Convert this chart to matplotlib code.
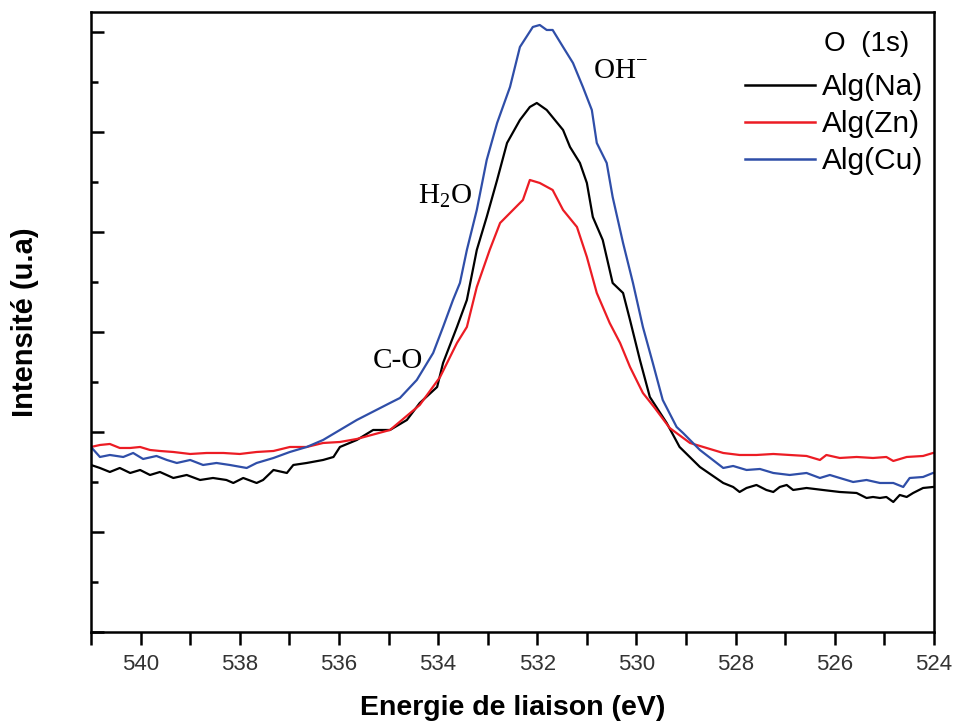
import matplotlib
matplotlib.use("Agg")
import matplotlib.pyplot as plt
from matplotlib.ticker import MultipleLocator

# Energie de liaison (eV) / intensite (u.a)
e_na = [541.00, 540.82, 540.62, 540.42, 540.21, 540.01, 539.81, 539.61, 539.34, 539.07,
        538.80, 538.54, 538.27, 538.13, 537.93, 537.66, 537.53, 537.32, 537.05, 536.92,
        536.65, 536.32, 536.11, 535.98, 535.64, 535.31, 534.97, 534.63, 534.37, 534.02,
        533.90, 533.62, 533.42, 533.22, 533.02, 532.81, 532.61, 532.35, 532.15, 532.01,
        531.81, 531.48, 531.34, 531.14, 531.00, 530.88, 530.68, 530.48, 530.27, 530.13,
        529.93, 529.73, 529.39, 529.13, 528.72, 528.25, 528.05, 527.92, 527.78, 527.58,
        527.38, 527.24, 527.11, 526.97, 526.84, 526.57, 526.24, 525.90, 525.56, 525.36,
        525.23, 525.09, 524.96, 524.82, 524.69, 524.55, 524.42, 524.22, 524.02]
i_na = [1.67, 1.64, 1.60, 1.64, 1.59, 1.62, 1.57, 1.60, 1.54, 1.57,
        1.52, 1.54, 1.52, 1.49, 1.54, 1.49, 1.52, 1.62, 1.59, 1.67,
        1.69, 1.72, 1.75, 1.85, 1.92, 2.02, 2.02, 2.12, 2.29, 2.45,
        2.69, 3.05, 3.32, 3.82, 4.15, 4.52, 4.89, 5.12, 5.25, 5.29,
        5.22, 5.02, 4.85, 4.69, 4.49, 4.15, 3.92, 3.49, 3.39, 3.12,
        2.72, 2.35, 2.09, 1.85, 1.65, 1.49, 1.45, 1.40, 1.44, 1.47,
        1.42, 1.40, 1.45, 1.47, 1.42, 1.44, 1.42, 1.40, 1.39, 1.34,
        1.35, 1.34, 1.35, 1.30, 1.37, 1.35, 1.39, 1.44, 1.45]

e_zn = [541.00, 540.82, 540.62, 540.42, 540.21, 540.01, 539.81, 539.61, 539.34, 539.00,
        538.67, 538.33, 538.00, 537.66, 537.32, 536.99, 536.65, 536.32, 535.98, 535.64,
        534.97, 534.37, 533.96, 533.62, 533.42, 533.22, 532.96, 532.75, 532.49, 532.29,
        532.15, 531.95, 531.69, 531.48, 531.20, 531.00, 530.80, 530.54, 530.33, 530.13,
        529.87, 529.63, 529.33, 528.92, 528.25, 527.92, 527.58, 527.24, 526.91, 526.57,
        526.30, 526.17, 525.90, 525.56, 525.23, 524.96, 524.82, 524.55, 524.22, 524.02]
i_zn = [1.85, 1.87, 1.88, 1.84, 1.84, 1.85, 1.82, 1.81, 1.80, 1.78,
        1.79, 1.79, 1.78, 1.80, 1.81, 1.85, 1.85, 1.89, 1.90, 1.93,
        2.02, 2.27, 2.55, 2.89, 3.05, 3.45, 3.82, 4.09, 4.22, 4.32,
        4.52, 4.49, 4.42, 4.22, 4.05, 3.75, 3.39, 3.09, 2.89, 2.65,
        2.39, 2.24, 2.04, 1.89, 1.79, 1.77, 1.77, 1.78, 1.77, 1.76,
        1.72, 1.77, 1.74, 1.75, 1.74, 1.75, 1.71, 1.75, 1.76, 1.79]

e_cu = [541.00, 540.82, 540.62, 540.35, 540.15, 539.95, 539.68, 539.47, 539.27, 539.00,
        538.74, 538.47, 538.20, 537.86, 537.66, 537.32, 536.99, 536.65, 536.32, 535.64,
        534.97, 534.77, 534.43, 534.10, 533.90, 533.70, 533.56, 533.42, 533.22, 533.02,
        532.81, 532.55, 532.35, 532.09, 531.95, 531.81, 531.69, 531.48, 531.28, 531.08,
        530.90, 530.80, 530.60, 530.48, 530.27, 530.07, 529.87, 529.67, 529.47, 529.19,
        529.06, 528.72, 528.25, 528.05, 527.78, 527.51, 527.24, 526.91, 526.57, 526.30,
        526.10, 525.90, 525.63, 525.36, 525.09, 524.82, 524.62, 524.49, 524.22, 524.02]
i_cu = [1.85, 1.75, 1.77, 1.75, 1.79, 1.73, 1.76, 1.72, 1.69, 1.72,
        1.67, 1.69, 1.67, 1.64, 1.69, 1.74, 1.80, 1.85, 1.92, 2.12,
        2.29, 2.34, 2.52, 2.79, 3.05, 3.32, 3.49, 3.82, 4.22, 4.72,
        5.09, 5.45, 5.85, 6.05, 6.07, 6.02, 6.02, 5.85, 5.69, 5.45,
        5.22, 4.89, 4.69, 4.35, 3.89, 3.49, 3.05, 2.69, 2.32, 2.05,
        1.99, 1.82, 1.64, 1.66, 1.62, 1.63, 1.59, 1.57, 1.59, 1.54,
        1.57, 1.54, 1.50, 1.52, 1.49, 1.49, 1.45, 1.54, 1.55, 1.59]

series = [("Alg(Na)", e_na, i_na, "black"),
          ("Alg(Zn)", e_zn, i_zn, "#ec1c24"),
          ("Alg(Cu)", e_cu, i_cu, "#2f4ea8")]

# etiquettes des composantes (position en eV, intensite)
peaks = [(r"OH$^{-}$", 530.88, 5.54),
         (r"H$_2$O", 534.41, 4.29),
         ("C-O", 535.31, 2.64)]

plt.rcParams["font.family"] = ["Liberation Sans", "DejaVu Sans"]
plt.rcParams["mathtext.fontset"] = "custom"
plt.rcParams["mathtext.rm"] = "Liberation Serif"

fig = plt.figure(figsize=(9.54, 7.26), dpi=100)
ax = fig.add_axes([0.0954, 0.1295, 0.8836, 0.854])

for name, e, inten, col in series:
    ax.plot(e, inten, color=col, lw=1.6, label=name)

ax.set_xlim(541, 524)
ax.set_ylim(0, 6.2)
ax.xaxis.set_major_locator(MultipleLocator(2))
ax.xaxis.set_minor_locator(MultipleLocator(1))
ax.yaxis.set_major_locator(MultipleLocator(1))
ax.yaxis.set_minor_locator(MultipleLocator(0.5))
ax.tick_params(axis="x", which="both", direction="out", length=9, width=1.8,
               labelsize=16, labelcolor="#333333", pad=7)
ax.tick_params(axis="y", which="major", direction="in", length=9, width=1.8,
               labelleft=False)
ax.tick_params(axis="y", which="minor", direction="in", length=5, width=1.8)
for sp in ax.spines.values():
    sp.set_linewidth(1.8)

ax.set_xlabel("Energie de liaison (eV)", fontsize=20.5, fontweight="bold", labelpad=14)
ax.set_ylabel("Intensité (u.a)", fontsize=21, fontweight="bold", labelpad=34)

serif = ["Liberation Serif", "DejaVu Serif"]
for txt, x, y in peaks:
    ax.text(x, y, txt, fontsize=21, family=serif, va="baseline")

ax.text(0.9205, 0.948, "O  (1s)", transform=ax.transAxes, fontsize=20,
        ha="center", va="center")
leg = ax.legend(loc="upper right", frameon=False, fontsize=21.5,
                handlelength=2.35, handletextpad=0.23,
                labelspacing=0.3, borderaxespad=0.0, borderpad=0.0,
                bbox_to_anchor=(0.987, 0.901))
for line in leg.get_lines():
    line.set_linewidth(1.8)

fig.savefig("out.png", dpi=100)
